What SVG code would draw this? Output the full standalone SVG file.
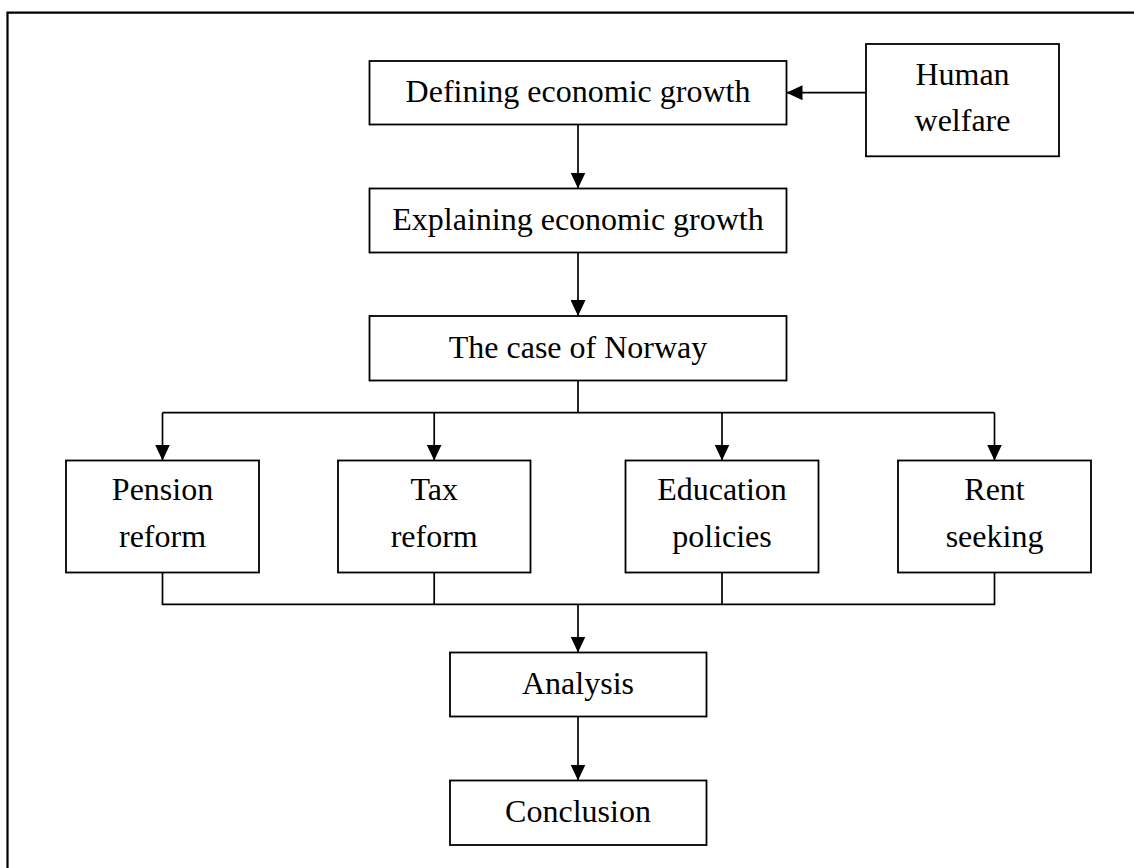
<svg xmlns="http://www.w3.org/2000/svg" width="1134" height="868" viewBox="0 0 1134 868">
<style>
.box{fill:#fff;stroke:#000;stroke-width:1.8}
.t{font-family:"Liberation Serif","Times New Roman",serif;font-size:32px;fill:#000;text-anchor:middle}
.c{fill:none;stroke:#000;stroke-width:1.7}
</style>
<defs>
<marker id="ah" markerUnits="userSpaceOnUse" markerWidth="16" markerHeight="15" refX="16" refY="7.5" orient="auto">
<path d="M0,0 L16,7.5 L0,15 z" fill="#000"/>
</marker>
</defs>
<rect width="1134" height="868" fill="#fff"/>
<path d="M7.5,868 V12.7 H1134" fill="none" stroke="#000" stroke-width="2.2"/>
<g id="connectors">
<path class="c" d="M866,92.7 H786.5" marker-end="url(#ah)"/>
<path class="c" d="M578,124.5 V188.5" marker-end="url(#ah)"/>
<path class="c" d="M578,252.5 V316" marker-end="url(#ah)"/>
<path class="c" d="M578,380.5 V412.7 M162.5,412.7 H994.5"/>
<path class="c" d="M162.5,412.7 V460.5" marker-end="url(#ah)"/>
<path class="c" d="M434.2,412.7 V460.5" marker-end="url(#ah)"/>
<path class="c" d="M722,412.7 V460.5" marker-end="url(#ah)"/>
<path class="c" d="M994.5,412.7 V460.5" marker-end="url(#ah)"/>
<path class="c" d="M162.5,572.5 V604.3 H994.5 V572.5 M434.2,572.5 V604.3 M722,572.5 V604.3"/>
<path class="c" d="M578,604.3 V652.5" marker-end="url(#ah)"/>
<path class="c" d="M578,716.5 V780.5" marker-end="url(#ah)"/>
</g>
<g id="defining">
<rect class="box" x="369.5" y="61" width="417" height="63.5"/>
<text class="t" x="578" y="102">Defining economic growth</text>
</g>
<g id="human-welfare">
<rect class="box" x="866" y="44" width="193" height="112.3"/>
<text class="t" x="962.5" y="85">Human</text>
<text class="t" x="962.5" y="130.5">welfare</text>
</g>
<g id="explaining">
<rect class="box" x="369.5" y="188.5" width="417" height="64"/>
<text class="t" x="578" y="230">Explaining economic growth</text>
</g>
<g id="norway">
<rect class="box" x="369.5" y="316" width="417" height="64.5"/>
<text class="t" x="578" y="357.5">The case of Norway</text>
</g>
<g id="pension">
<rect class="box" x="66" y="460.5" width="193" height="112"/>
<text class="t" x="162.5" y="500">Pension</text>
<text class="t" x="162.5" y="546.5">reform</text>
</g>
<g id="tax">
<rect class="box" x="338" y="460.5" width="192.5" height="112"/>
<text class="t" x="434.2" y="500">Tax</text>
<text class="t" x="434.2" y="546.5">reform</text>
</g>
<g id="education">
<rect class="box" x="625.5" y="460.5" width="193" height="112"/>
<text class="t" x="722" y="500">Education</text>
<text class="t" x="722" y="546.5">policies</text>
</g>
<g id="rent">
<rect class="box" x="898" y="460.5" width="193" height="112"/>
<text class="t" x="994.5" y="500">Rent</text>
<text class="t" x="994.5" y="546.5">seeking</text>
</g>
<g id="analysis">
<rect class="box" x="450" y="652.5" width="256.5" height="64"/>
<text class="t" x="578" y="693.5">Analysis</text>
</g>
<g id="conclusion">
<rect class="box" x="450" y="780.5" width="256.5" height="64.5"/>
<text class="t" x="578" y="822">Conclusion</text>
</g>
</svg>
